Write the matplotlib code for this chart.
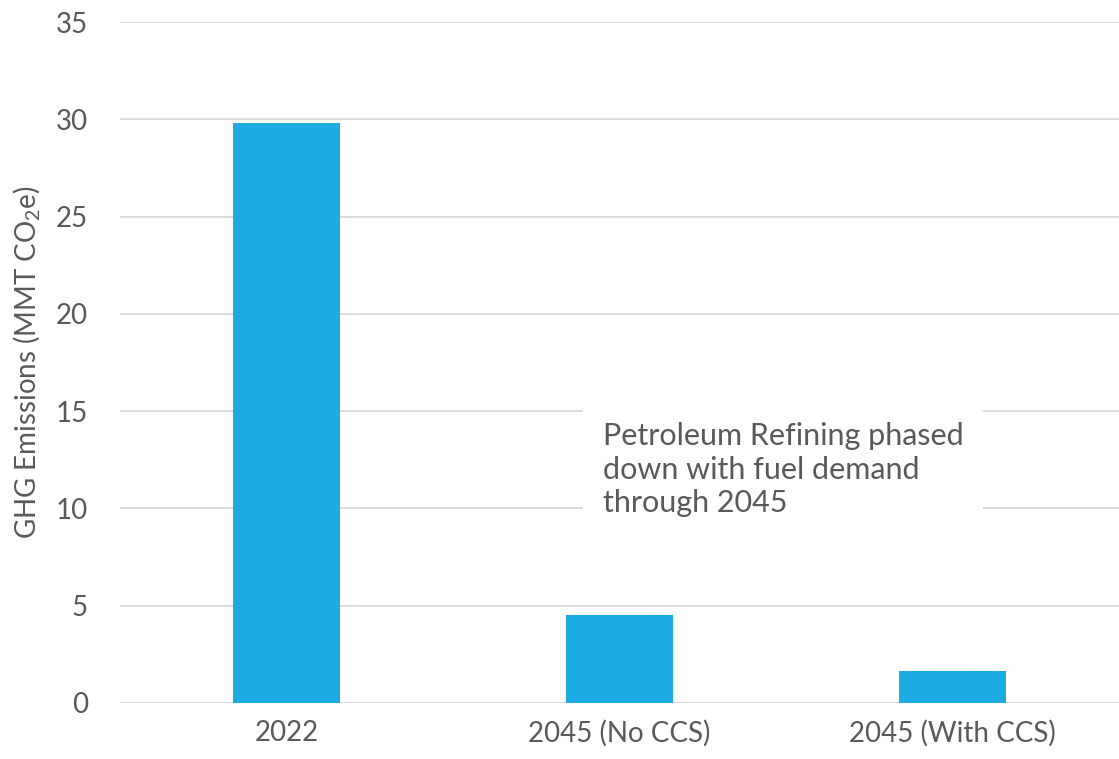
import matplotlib
matplotlib.use("Agg")
import matplotlib.pyplot as plt

categories = ['2022', '2045 (No CCS)', '2045 (With CCS)']
emissions = [29.8, 4.5, 1.65]
y_ticks = [0, 5, 10, 15, 20, 25, 30, 35]

bar_color = '#1eabe2'
text_color = '#595959'
grid_color = '#d9d9d9'

plt.rcParams['font.family'] = ['Lato', 'DejaVu Sans']
plt.rcParams['mathtext.default'] = 'regular'

fig = plt.figure(figsize=(11.19, 7.59), dpi=100)
ax = fig.add_axes([0.1072, 0.0738, 0.8928, 0.8972])

x = range(len(categories))
ax.bar(x, emissions, width=0.32, color=bar_color, zorder=3)

ax.set_xlim(-0.5, 2.5)
ax.set_ylim(0, 35)
ax.set_yticks(y_ticks)
ax.set_xticks(list(x))
ax.set_xticklabels(categories)
ax.tick_params(axis='both', length=0, colors=text_color, labelsize=20)
ax.tick_params(axis='x', pad=12)
ax.tick_params(axis='y', pad=23)

for s in ax.spines.values():
    s.set_visible(False)
ax.yaxis.grid(True, color=grid_color, linewidth=1.3, zorder=0)
ax.set_axisbelow(True)

ax.set_ylabel('GHG Emissions (MMT CO$_2$e)', fontsize=20, color=text_color, labelpad=10)

ax.text(0.95, 12.0, 'Petroleum Refining phased\ndown with fuel demand\nthrough 2045',
        fontsize=22, color=text_color, va='center', ha='left', linespacing=1.25,
        bbox=dict(facecolor='white', edgecolor='none', pad=14), zorder=4)

fig.savefig('out.png', dpi=100)
